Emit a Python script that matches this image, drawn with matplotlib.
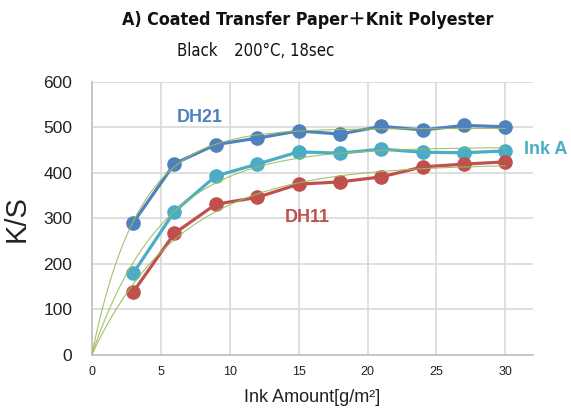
import numpy as np
import matplotlib
matplotlib.use("Agg")
import matplotlib.pyplot as plt

ink_amount = [3, 6, 9, 12, 15, 18, 21, 24, 27, 30]
dh21 = [290, 420, 462, 476, 492, 485, 502, 494, 504, 501]
ink_a = [179, 315, 393, 419, 446, 443, 452, 445, 444, 448]
dh11 = [138, 267, 331, 346, 375, 380, 391, 413, 419, 424]

x_ticks = [0, 5, 10, 15, 20, 25, 30]
y_ticks = [0, 100, 200, 300, 400, 500, 600]

title = "A) Coated Transfer Paper\uff0bKnit Polyester"
subtitle = "Black\u3000200°C, 18sec"

C_BLUE = "#4F81BD"
C_CYAN = "#4BACC6"
C_RED = "#C0504D"
C_TREND = "#9BBB59"


def fit_saturation(x, y):
    """Least-squares fit of y = a(1 - exp(-k x)) (trendline through origin)."""
    x = np.asarray(x, float)
    y = np.asarray(y, float)
    best = None
    for k in np.linspace(0.02, 1.0, 2000):
        f = 1 - np.exp(-k * x)
        a = (f @ y) / (f @ f)
        err = np.sum((y - a * f) ** 2)
        if best is None or err < best[0]:
            best = (err, a, k)
    return best[1], best[2]


fig = plt.figure(figsize=(5.71, 4.08), dpi=100)
ax = fig.add_axes([0.1606, 0.1299, 0.9335 - 0.1606, 0.7998 - 0.1299])

for vals, col in [(dh21, C_BLUE), (ink_a, C_CYAN), (dh11, C_RED)]:
    ax.plot(ink_amount, vals, color=col, lw=2.3, marker="o", ms=9.5,
            zorder=3, clip_on=False)

xs = np.linspace(0, 30, 300)
for vals in [dh21, ink_a, dh11]:
    a, k = fit_saturation(ink_amount, vals)
    ax.plot(xs, a * (1 - np.exp(-k * xs)), color=C_TREND, lw=0.8, zorder=4,
            alpha=0.9)

ax.set_xlim(0, 32)
ax.set_ylim(0, 600)
ax.set_xticks(x_ticks)
ax.set_yticks(y_ticks)
ax.grid(True, color="#d9d9d9", lw=1.2, zorder=0)
ax.set_axisbelow(True)
for s in ["top", "right"]:
    ax.spines[s].set_visible(False)
for s in ["left", "bottom"]:
    ax.spines[s].set_color("#bfbfbf")
    ax.spines[s].set_linewidth(1.2)
ax.tick_params(length=0)
ax.tick_params(axis="x", labelsize=9, pad=8, labelcolor="#222222")
ax.tick_params(axis="y", labelsize=12.5, pad=14, labelcolor="#222222")
for lab in ax.get_yticklabels() + ax.get_xticklabels():
    lab.set_family("Liberation Sans")

ax.set_xlabel("Ink Amount[g/m\u00b2]", fontsize=13, family="Liberation Sans",
              color="#222222", labelpad=8)
ax.set_ylabel("K/S", fontsize=21, family="Liberation Sans", color="#222222",
              labelpad=9)

ax.text(7.85, 522, "DH21", color=C_BLUE, fontsize=13, fontweight="bold",
        family="Liberation Sans", ha="center", va="center")
ax.text(15.65, 302, "DH11", color=C_RED, fontsize=13, fontweight="bold",
        family="Liberation Sans", ha="center", va="center")
ax.text(32.9, 452, "Ink A", color=C_CYAN, fontsize=13, fontweight="bold",
        family="Liberation Sans", ha="center", va="center", clip_on=False)

fig.text(308 / 571, 1 - 20 / 408, title, fontsize=12.8, fontweight="bold",
         fontstretch="condensed",
         family=["DejaVu Sans", "Noto Sans CJK JP"],
         ha="center", va="center", color="#111111")
fig.text(177 / 571, 1 - 51 / 408, subtitle, fontsize=12,
         fontstretch="condensed",
         family=["DejaVu Sans", "Noto Sans CJK JP"],
         ha="left", va="center", color="#111111")

fig.savefig("out.png", dpi=100)
